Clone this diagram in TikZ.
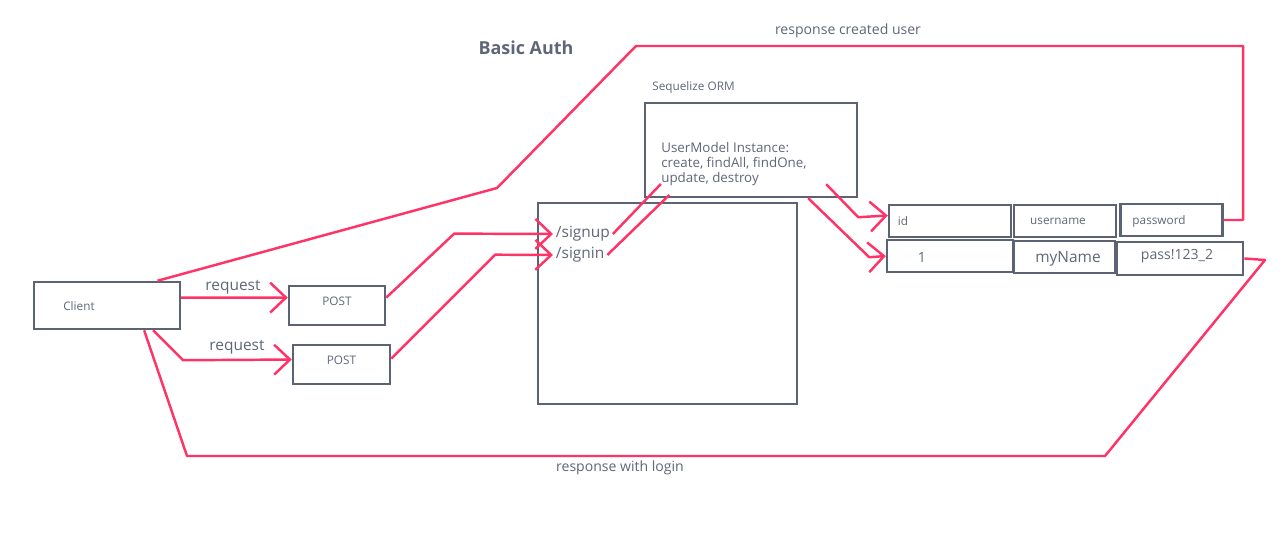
\documentclass[tikz,border=0pt]{standalone}
\usepackage{fontspec}
\setmainfont{Open Sans}
\usetikzlibrary{arrows.meta,fit,calc}
\definecolor{boxgray}{RGB}{92,99,114}
\definecolor{txtgray}{RGB}{95,102,118}
\definecolor{linkpink}{RGB}{255,51,102}
\begin{document}
\begin{tikzpicture}[x=0.02cm,y=-0.02cm,
    box/.style={draw=boxgray,line width=1.4pt,inner sep=0pt,text=txtgray},
    lbl/.style={text=txtgray,inner sep=0pt},
    flow/.style={draw=linkpink,line width=1.4pt,line join=round},
    fsmall/.style={font=\fontsize{6.7}{8}\selectfont},
    fmid/.style={font=\fontsize{8}{9.5}\selectfont},
    fbig/.style={font=\fontsize{8.8}{10.5}\selectfont},
    >={Straight Barb[length=9pt,width=17pt,line width=1.4pt]}]
    \useasboundingbox (0,0) rectangle (1287,540);

    \node[lbl,font=\bfseries\fontsize{10.2}{12}\selectfont] (title) at (526,48) {Basic Auth};

    % client and the two requests
    \node[box,fit={(34,282) (180,329)}] (client) {};
    \node[lbl,fsmall] (clientlbl) at (79,306) {Client};
    \node[box,fsmall,fit={(289,286) (385,325)}] (post1) {POST};
    \node[box,fsmall,fit={(293,345) (390,384)}] (post2) {POST};

    % routes
    \node[box,fit={(538,203) (797,404)}] (routes) {};
    \node[lbl,fbig,anchor=west,inner xsep=1.5pt] (signup) at (553,234) {/signup};
    \node[lbl,fbig,anchor=west,inner xsep=1.5pt] (signin) at (553,255) {/signin};

    % orm
    \node[box,fit={(645,103) (857,197)}] (orm) {};
    \node[lbl,fsmall,anchor=south west] (ormlbl) at (652,94) {Sequelize ORM};
    \node[lbl,font=\fontsize{7.6}{8.6}\selectfont,anchor=north west,align=left] (ormtxt) at (661,142)
        {UserModel Instance:\\create, findAll, findOne,\\update, destroy};

    % table
    \node[box,fit={(889,205) (1011,237)}] (idcol) {};
    \node[lbl,fsmall] (idlbl) at (903,221) {id};
    \node[box,fit={(1014,205) (1116,237)}] (usercol) {};
    \node[lbl,fsmall] (userlbl) at (1058,221) {username};
    \node[box,line width=1.7pt,fit={(1120,204) (1222,236)}] (pwdcol) {};
    \node[lbl,fsmall] (pwdlbl) at (1159,221) {password};
    \node[box,fit={(887,240) (1013,272)}] (one) {};
    \node[lbl,fmid] (onelbl) at (922,257) {1};
    \node[box,fit={(1014,241) (1115,273)}] (myname) {};
    \node[lbl,fbig] (mynamelbl) at (1068,259) {myName};
    \node[box,line width=1.6pt,fit={(1117,242) (1243,275)}] (pass) {};
    \node[lbl,fmid] (passlbl) at (1177,256) {pass!123\_2};

    % requests
    \draw[flow,->] ($(client.north east)!0.34!(client.south east)$) -- ($(post1.north west)!0.31!(post1.south west)$);
    \node[lbl,fbig] (req1) at (233,287) {request};
    \draw[flow,->] ($(client.south west)!0.81!(client.south east)$) -- ++(30,30) -- ($(post2.north west)!0.38!(post2.south west)$);
    \node[lbl,fbig] (req2) at (237,347) {request};

    \draw[flow,->] ($(post1.north east)!0.31!(post1.south east)$) -- ++(68,-64) -- (signup.west);
    \draw[flow,->] ($(post2.north east)!0.36!(post2.south east)$) -- ++(104,-104) -- (signin.west);

    \draw[flow] (signup.east) -- ++(48,-50);
    \draw[flow] (signin.east) -- ++(62,-60);

    \draw[flow,->] ([shift={(-32,-14)}]orm.south east) -- ++(32,33) -- ($(idcol.north west)!0.34!(idcol.south west)$);
    \draw[flow,->] ([shift={(-50,0)}]orm.south east) -- ++(61,59) -- (one.west);

    % responses
    \coordinate (rc1) at (1243,46);
    \coordinate (rc2) at (636,46);
    \coordinate (rc3) at (497,188);
    \draw[flow] (pwdcol.east) -| (rc1) -- (rc2) -- (rc3) -- ($(client.north west)!0.84!(client.north east)$);
    \node[lbl,fmid] (created) at (848,31) {response created user};

    \coordinate (lc1) at (1265,260);
    \coordinate (lc2) at (1105,456);
    \coordinate (lc3) at (187,456);
    \draw[flow] (pass.east) -- (lc1) -- (lc2) -- (lc3) -- ($(client.south west)!0.75!(client.south east)$);
    \node[lbl,fmid] (login) at (620,468) {response with login};
\end{tikzpicture}
\end{document}
